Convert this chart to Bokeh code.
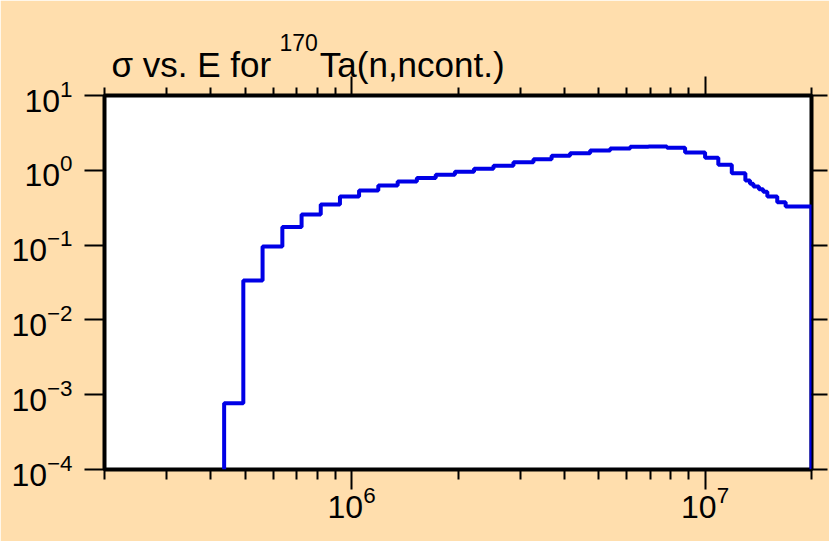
import numpy as np
from bokeh.plotting import figure
from bokeh.models import LogAxis, FixedTicker, Title
from bokeh.embed import file_html
from bokeh.resources import INLINE

# ---- data ----
energy_edges = [4.36e5, 4.94e5, 5.60e5, 6.37e5, 7.22e5, 8.18e5, 9.27e5, 1.05e6,
                1.19e6, 1.35e6, 1.53e6, 1.73e6, 1.96e6, 2.22e6, 2.52e6, 2.87e6,
                3.27e6, 3.68e6, 4.15e6, 4.73e6, 5.39e6, 6.14e6, 6.92e6, 7.80e6,
                8.78e6, 1.00e7, 1.09e7, 1.19e7, 1.30e7, 1.34e7, 1.37e7, 1.42e7,
                1.46e7, 1.50e7, 1.60e7, 1.69e7, 2.00e7]
sigma = [7.7e-4, 0.0336, 0.096, 0.174, 0.256, 0.349, 0.447, 0.537,
         0.626, 0.708, 0.79, 0.87, 0.955, 1.05, 1.15, 1.28,
         1.41, 1.56, 1.69, 1.84, 1.96, 2.06, 2.08, 2.00,
         1.73, 1.47, 1.19, 0.915, 0.731, 0.659, 0.607, 0.558,
         0.516, 0.447, 0.375, 0.328]

x_range = (2e5, 2e7)
y_range = (1e-4, 1e1)
x_major = [1e6, 1e7]
x_minor = [2e5, 3e5, 4e5, 5e5, 6e5, 7e5, 8e5, 9e5,
           2e6, 3e6, 4e6, 5e6, 6e6, 7e6, 8e6, 9e6, 2e7]
y_major = [1e-4, 1e-3, 1e-2, 1e-1, 1e0, 1e1]
title_main = "σ vs. E for " + "\u00a0" * 4 + "Ta(n,ncont.)"
title_sup = "170"

BG = "#FFDEAD"
FONT = "Liberation Sans"

# ---- step path built from the histogram ----
e = np.asarray(energy_edges)
s = np.asarray(sigma)
xs = np.repeat(e, 2)
ys = np.concatenate([[y_range[0]], np.repeat(s, 2), [y_range[0]]])

p = figure(width=829, height=541, title=None,
           x_axis_type="log", y_axis_type="log",
           x_range=x_range, y_range=y_range,
           output_backend="svg", toolbar_location=None,
           min_border_left=104, min_border_right=18,
           min_border_top=95, min_border_bottom=72)
p.background_fill_color = "white"
p.border_fill_color = BG
p.outline_line_color = "black"
p.outline_line_width = 4
p.xgrid.visible = False
p.ygrid.visible = False

p.line(xs, ys, line_color="#0000E6", line_width=4)

def style_axis(ax, major_out, minor_out, minor=True, labels=False, standoff=0):
    ax.axis_line_color = None
    ax.major_tick_line_color = "black"
    ax.major_tick_line_width = 2
    ax.major_tick_in = 0
    ax.major_tick_out = major_out
    if minor:
        ax.minor_tick_line_color = "black"
        ax.minor_tick_line_width = 2
        ax.minor_tick_in = 0
        ax.minor_tick_out = minor_out
    else:
        ax.minor_tick_line_color = None
    if labels:
        ax.major_label_text_font = FONT
        ax.major_label_text_font_size = "32px"
        ax.major_label_text_color = "black"
    else:
        ax.major_label_text_font_size = "1px"
        ax.major_label_text_color = None
    ax.major_label_standoff = standoff

xt = FixedTicker(ticks=x_major, minor_ticks=x_minor)
yt = FixedTicker(ticks=y_major, minor_ticks=[])

bx = p.xaxis[0]
bx.ticker = xt
style_axis(bx, 20, 10, labels=True, standoff=-4)
ly = p.yaxis[0]
ly.ticker = yt
style_axis(ly, 20, 0, minor=False, labels=True, standoff=12)

tx = LogAxis(ticker=xt)
style_axis(tx, 19, 8, standoff=11)
p.add_layout(tx, "above")
ry = LogAxis(ticker=yt)
style_axis(ry, 16, 0, minor=False)
p.add_layout(ry, "right")

# ---- spacer between the top axis and the title (raises the title) ----
spacer = Title(text="\u00a0", standoff=13, text_font_size="1px",
               text_color=BG, text_alpha=0.0)
p.add_layout(spacer, "above")

# ---- title: main line, then the raised isotope mass number above it ----
t_main = Title(text=title_main, align="left", offset=7, standoff=-15,
               text_font=FONT, text_font_size="35px", text_font_style="normal",
               text_color="black")
p.add_layout(t_main, "above")
t_sup = Title(text=title_sup, align="left", offset=175, standoff=0,
              text_font=FONT, text_font_size="23px", text_font_style="normal",
              text_color="black")
p.add_layout(t_sup, "above")

open("out.html", "w").write(file_html(p, INLINE))
